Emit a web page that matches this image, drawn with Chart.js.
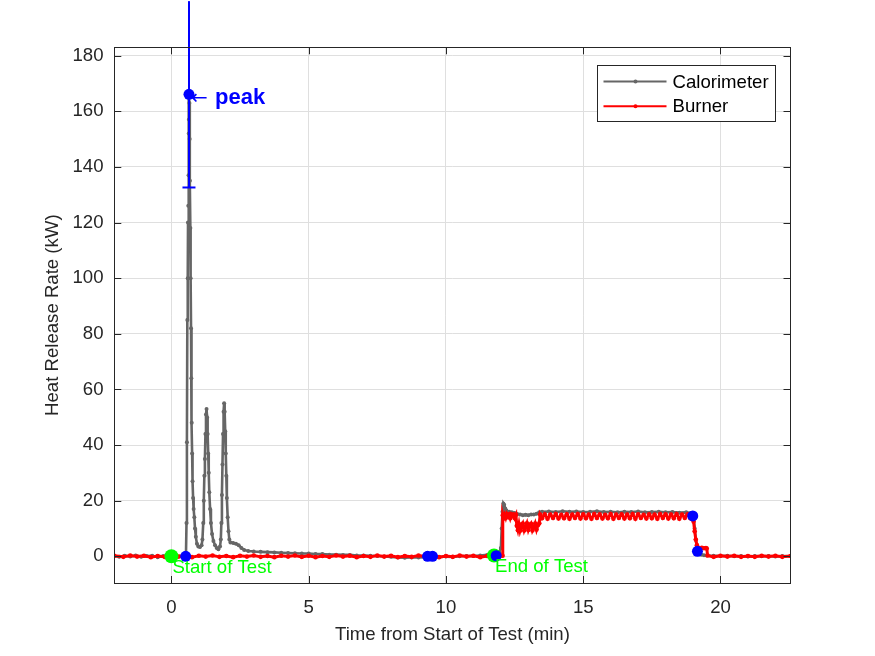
<!DOCTYPE html>
<html>
<head>
<meta charset="utf-8">
<script src="https://cdn.jsdelivr.net/npm/chart.js@4"></script>
<style>
  html, body { margin: 0; padding: 0; background: #fff; }
  canvas { display: block; }
</style>
</head>
<body>
<canvas id="hrrChart" width="875" height="656"></canvas>
<script>
// --- Data ---

// Calorimeter heat release rate (kW) vs time from start of test (min)
const calTime = [
  -2.08, -1.9, -1.7, -1.5, -1.3, -1.1, -0.9, -0.7, -0.5, -0.3, -0.1, 0.1, 0.3, 0.45, 0.53,
  0.55, 0.565, 0.58, 0.595, 0.605, 0.615, 0.625, 0.632, 0.638, 0.64, 0.655, 0.665, 0.675, 0.69, 0.70,
  0.715, 0.725, 0.74, 0.755, 0.77, 0.79, 0.81, 0.835, 0.86, 0.89, 0.93, 0.98, 1.04, 1.10,
  1.13, 1.16, 1.18, 1.20, 1.22, 1.24, 1.26, 1.28, 1.30, 1.32, 1.34, 1.36, 1.38, 1.41, 1.44,
  1.48, 1.53, 1.59, 1.65, 1.71, 1.77,
  1.80, 1.82, 1.84, 1.86, 1.88, 1.90, 1.92, 1.94, 1.96, 1.98, 2.00, 2.02, 2.05, 2.08, 2.11,
  2.15, 2.25, 2.35, 2.45, 2.55, 2.65, 2.8, 3.0, 3.25, 3.5, 3.75, 4.0, 4.25, 4.5, 4.75,
  5.0, 5.25, 5.5, 5.75, 6.0, 6.25, 6.5, 6.75, 7.0, 7.25, 7.5, 7.75, 8.0, 8.25, 8.5,
  8.75, 9.0, 9.25, 9.5, 9.75, 10.0, 10.25, 10.5, 10.75, 11.0, 11.25, 11.5, 11.7, 11.85, 11.95, 12.0,
  12.03, 12.06, 12.09, 12.12, 12.16, 12.2, 12.3, 12.4, 12.5, 12.6, 12.7, 12.8, 12.9, 13.0, 13.1,
  13.2, 13.3, 13.4, 13.5, 13.75, 14.0, 14.25, 14.5, 14.75, 15.0, 15.25, 15.5, 15.75, 16.0, 16.25,
  16.5, 16.75, 17.0, 17.25, 17.5, 17.75, 18.0, 18.25, 18.5, 18.75, 18.95,
  19.02, 19.06, 19.1, 19.14, 19.18, 19.22, 19.3, 19.4, 19.5, 19.75, 20.0, 20.25, 20.5, 20.75,
  21.0, 21.25, 21.5, 21.75, 22.0, 22.25, 22.55
];
const calHRR = [
  0.1, -0.2, 0.2, -0.1, 0.3, -0.2, 0.1, 0.2, -0.3, 0.1, -0.1, 0.2, -0.1, 0.1, 0.3,
  12, 41, 85, 100, 120, 126, 137, 152, 157, 166, 163, 150, 135, 118, 100,
  82, 64, 48, 37, 27, 21, 17, 14, 10, 7, 4.5, 3.5, 3.3, 4,
  6, 12, 20, 29, 35, 44, 51, 53, 50, 44, 37, 30, 23, 17, 12,
  8, 5.5, 4, 3, 2.5, 3.5,
  6, 12, 22, 33, 44, 52, 55, 52, 45, 37, 29, 21, 14, 9, 6,
  5, 4.8, 4.5, 4, 3, 2.3, 1.9, 1.7, 1.6, 1.5, 1.4, 1.3, 1.2, 1.1, 1.0,
  1.0, 0.8, 0.8, 0.6, 0.6, 0.5, 0.5, 0.3, 0.3, 0.2, 0.1, -0.1, -0.2, -0.4, -0.5,
  -0.4, -0.4, -0.3, -0.2, -0.3, -0.1, -0.2, 0.0, 0.1, 0.1, 0.3, 0.5, 0.8, 1.0, 1.5, 3,
  10, 16, 19, 18.5, 17.2, 16.5, 16, 15.8, 15.6, 15.2, 15.0, 14.8, 14.9, 14.8, 15.0,
  15.0, 15.3, 15.8, 16.0, 16.1, 15.9, 16.2, 16.0, 16.1, 15.9, 16.0, 16.2, 15.9, 16.0, 15.8,
  16.0, 15.9, 16.1, 15.8, 15.9, 16.0, 15.8, 15.9, 15.7, 15.8, 15.6,
  14, 10, 6, 3, 1.6, 1.0, 0.6, 0.4, 0.3, 0.2, 0.1, 0.2, 0.0, 0.1,
  -0.1, 0.1, 0.0, 0.1, -0.1, 0.1, 0.0
];

// Burner heat release rate (kW)
const burnerTime = [
  -2.08, -1.75, -1.5, -1.25, -1.0, -0.75, -0.5, -0.25, 0.0, 0.25, 0.5, 0.75, 1.0, 1.25, 1.5,
  1.75, 2.0, 2.25, 2.5, 2.75, 3.0, 3.25, 3.5, 3.75, 4.0, 4.25, 4.5, 4.75, 5.0, 5.25,
  5.5, 5.75, 6.0, 6.25, 6.5, 6.75, 7.0, 7.25, 7.5, 7.75, 8.0, 8.25, 8.5, 8.75, 9.0,
  9.25, 9.5, 9.75, 10.0, 10.25, 10.5, 10.75, 11.0, 11.25, 11.5, 11.75, 12.0, 12.06,
  12.07, 12.1, 12.14, 12.18, 12.22, 12.26, 12.3, 12.34, 12.38, 12.42, 12.46, 12.5, 12.55,
  12.58, 12.62, 12.66, 12.7, 12.75, 12.8, 12.85, 12.9, 12.95, 13.0, 13.05, 13.1, 13.15, 13.2,
  13.25, 13.3, 13.35, 13.4, 13.43,
  13.5, 13.6, 13.7, 13.8, 13.9, 14.0, 14.1, 14.2, 14.3, 14.4, 14.5, 14.6, 14.7, 14.8, 14.9,
  15.0, 15.1, 15.2, 15.3, 15.4, 15.5, 15.6, 15.7, 15.8, 15.9, 16.0, 16.1, 16.2, 16.3, 16.4,
  16.5, 16.6, 16.7, 16.8, 16.9, 17.0, 17.1, 17.2, 17.3, 17.4, 17.5, 17.6, 17.7, 17.8, 17.9,
  18.0, 18.1, 18.2, 18.3, 18.4, 18.5, 18.6, 18.7, 18.8, 18.9, 18.97,
  19.02, 19.06, 19.1, 19.14, 19.18, 19.25, 19.32, 19.4, 19.47, 19.5, 19.53,
  19.75, 20.0, 20.25, 20.5, 20.75, 21.0, 21.25, 21.5, 21.75, 22.0, 22.25, 22.55
];
const burnerHRR = [
  0.2, -0.2, 0.3, -0.1, 0.2, -0.3, 0.1, -0.2, 0.3, -0.1, 0.2, -0.3, 0.2, -0.1, 0.3,
  -0.2, 0.1, -0.3, 0.2, -0.1, 0.3, -0.2, 0.1, -0.3, 0.2, -0.1, 0.3, -0.2, 0.2, -0.3,
  0.1, -0.2, 0.3, -0.1, 0.2, -0.3, 0.1, -0.2, 0.3, -0.1, 0.2, -0.3, 0.1, -0.2, 0.3,
  -0.1, 0.2, -0.3, 0.1, -0.2, 0.3, -0.1, 0.2, -0.3, 0.1, -0.2, 0.3, 0.2,
  14.8, 13.6, 15.0, 13.8, 15.2, 14.4, 15.0, 13.7, 15.1, 14.6, 15.0, 13.8, 14.9,
  11.0, 9.4, 11.6, 9.2, 10.8, 11.8, 9.3, 10.6, 11.9, 9.5, 10.9, 11.7, 9.3, 10.4,
  11.8, 9.6, 11.2, 11.9, 15.0,
  13.7, 15.1, 13.5, 15.0, 13.8, 15.2, 13.6, 14.9, 13.7, 15.1, 13.5, 15.0, 13.8, 15.2, 13.6,
  15.1, 13.7, 15.0, 13.5, 15.2, 13.8, 15.1, 13.6, 14.9, 13.7, 15.2, 13.5, 15.0, 13.8, 15.1,
  13.6, 15.0, 13.7, 15.2, 13.5, 15.1, 13.8, 14.9, 13.6, 15.1, 13.7, 15.0, 13.5, 15.2, 13.8,
  15.1, 13.6, 15.0, 13.7, 15.2, 13.5, 15.0, 13.8, 15.1, 13.7, 14.6,
  12.5, 9, 6, 4, 3.1, 2.8, 3.1, 2.9, 3.0, 2.8, 0.3,
  -0.2, 0.2, -0.1, 0.2, -0.2, 0.1, -0.2, 0.2, -0.1, 0.2, -0.2, 0.1
];

// Event markers
const blueTime = [0.52, 9.33, 9.51, 11.83, 18.99, 19.16];
const blueHRR = [0, 0, 0, 0.2, 14.5, 1.8];
const greenTime = [0, 11.75];
const greenHRR = [0, 0.3];
const greenLabels = ['Start of Test', 'End of Test'];

// Peak with error bar
const peakTime = 0.64;
const peakHRR = 166.1;
const peakErr = 33.5;

// Axes
const xTicks = [0, 5, 10, 15, 20];
const yTicks = [0, 20, 40, 60, 80, 100, 120, 140, 160, 180];
const xRange = [-2.08, 22.55];
const yRange = [-9.6, 183];

// --- Helpers ---

const FONT = '"Liberation Sans", Arial, Helvetica, sans-serif';
const AXIS_COLOR = '#262626';
const GRAY = '#666666';

function toPoints(xs, ys) {
  return xs.map((x, i) => ({ x: x, y: ys[i] }));
}

// Box, inward ticks, legend and text annotations (MATLAB look)
const matlabFrame = {
  id: 'matlabFrame',
  afterDatasetsDraw(chart) {
    const { ctx, chartArea: a } = chart;
    const xs = chart.scales.x;
    const ys = chart.scales.y;
    const tick = 7;
    ctx.save();

    // event labels
    ctx.fillStyle = '#00ff00';
    ctx.font = '18.6px ' + FONT;
    ctx.textAlign = 'left';
    ctx.textBaseline = 'alphabetic';
    greenTime.forEach((t, i) => {
      ctx.fillText(greenLabels[i], xs.getPixelForValue(t) + 1, ys.getPixelForValue(greenHRR[i]) + 16.5);
    });

    // peak annotation
    const px = xs.getPixelForValue(peakTime);
    const py = ys.getPixelForValue(peakHRR);
    ctx.fillStyle = '#0000ff';
    ctx.font = '20px "DejaVu Sans", sans-serif';
    ctx.fillText('\u2190', px + 2, py + 10);
    ctx.font = 'bold 22px ' + FONT;
    ctx.fillText('peak', px + 26, py + 9.7);

    // box
    ctx.strokeStyle = AXIS_COLOR;
    ctx.lineWidth = 1;
    ctx.beginPath();
    xTicks.forEach(v => {
      const p = Math.round(xs.getPixelForValue(v)) + 0.5;
      ctx.moveTo(p, a.bottom); ctx.lineTo(p, a.bottom - tick);
      ctx.moveTo(p, a.top); ctx.lineTo(p, a.top + tick);
    });
    yTicks.forEach(v => {
      const p = Math.round(ys.getPixelForValue(v)) + 0.5;
      ctx.moveTo(a.left, p); ctx.lineTo(a.left + tick, p);
      ctx.moveTo(a.right, p); ctx.lineTo(a.right - tick, p);
    });
    ctx.stroke();
    ctx.strokeRect(Math.round(a.left) + 0.5, Math.round(a.top) + 0.5,
      Math.round(a.right - a.left), Math.round(a.bottom - a.top));

    // legend
    const lw = 178, lh = 56;
    const lx = Math.round(a.right - 15.5 - lw) + 0.5;
    const ly = Math.round(a.top + 17.7) + 0.5;
    ctx.fillStyle = '#ffffff';
    ctx.fillRect(lx, ly, lw, lh);
    ctx.strokeStyle = AXIS_COLOR;
    ctx.strokeRect(lx, ly, lw, lh);
    const items = [
      { label: 'Calorimeter', color: GRAY },
      { label: 'Burner', color: '#ff0000' }
    ];
    items.forEach((it, i) => {
      const yy = ly + 16 + i * 24.7;
      ctx.strokeStyle = it.color;
      ctx.lineWidth = 2;
      ctx.beginPath();
      ctx.moveTo(lx + 6, yy); ctx.lineTo(lx + 69, yy);
      ctx.stroke();
      ctx.fillStyle = it.color;
      ctx.beginPath();
      ctx.arc(lx + 38, yy, 2, 0, Math.PI * 2);
      ctx.fill();
      ctx.fillStyle = '#000000';
      ctx.font = '18.6px ' + FONT;
      ctx.textBaseline = 'middle';
      ctx.fillText(it.label, lx + 75, yy + 1);
    });
    ctx.restore();
  }
};

// --- Chart ---

const ctx = document.getElementById('hrrChart').getContext('2d');
Chart.defaults.font.family = FONT;

const hrrChart = new Chart(ctx, {
  type: 'line',
  data: {
    datasets: [
      {
        label: 'Calorimeter',
        data: toPoints(calTime, calHRR),
        borderColor: GRAY,
        backgroundColor: GRAY,
        borderWidth: 2.6,
        pointRadius: 2,
        pointBorderWidth: 0,
        tension: 0,
        order: 5
      },
      {
        label: 'Burner',
        data: toPoints(burnerTime, burnerHRR),
        borderColor: '#ff0000',
        backgroundColor: '#ff0000',
        borderWidth: 3,
        pointRadius: 2.3,
        pointBorderWidth: 0,
        tension: 0,
        order: 4
      },
      {
        label: 'start/end',
        data: toPoints(greenTime, greenHRR),
        showLine: false,
        backgroundColor: '#00ff00',
        borderColor: '#00ff00',
        pointRadius: 7,
        pointBorderWidth: 0,
        order: 3
      },
      {
        label: 'error',
        data: [{ x: peakTime, y: peakHRR - peakErr }, { x: peakTime, y: peakHRR + peakErr }],
        borderColor: '#0000ff',
        borderWidth: 2,
        pointStyle: 'line',
        pointRadius: 6.5,
        pointBorderWidth: 2,
        pointBorderColor: '#0000ff',
        clip: false,
        order: 2
      },
      {
        label: 'events',
        data: toPoints(blueTime, blueHRR).concat([{ x: peakTime, y: peakHRR }]),
        showLine: false,
        backgroundColor: '#0000ff',
        borderColor: '#0000ff',
        pointRadius: 5.5,
        pointBorderWidth: 0,
        order: 1
      }
    ]
  },
  options: {
    responsive: false,
    animation: false,
    events: [],
    layout: { padding: { top: 47.3, right: 84.5, left: 0, bottom: 0 } },
    scales: {
      x: {
        type: 'linear',
        min: xRange[0],
        max: xRange[1],
        afterBuildTicks: s => { s.ticks = xTicks.map(v => ({ value: v })); },
        afterFit: s => { s.height = 73; },
        grid: { color: '#dfdfdf', drawTicks: false },
        border: { display: false },
        ticks: { color: AXIS_COLOR, font: { size: 18.6 }, padding: 14, maxRotation: 0 },
        title: {
          display: true,
          text: 'Time from Start of Test (min)',
          color: AXIS_COLOR,
          font: { size: 18.6 },
          padding: { top: 0, bottom: 10 }
        }
      },
      y: {
        type: 'linear',
        min: yRange[0],
        max: yRange[1],
        afterBuildTicks: s => { s.ticks = yTicks.map(v => ({ value: v })); },
        afterFit: s => { s.width = 114.3; },
        grid: { color: '#dfdfdf', drawTicks: false },
        border: { display: false },
        ticks: { color: AXIS_COLOR, font: { size: 18.6 }, padding: 10.8 },
        title: {
          display: true,
          text: 'Heat Release Rate (kW)',
          color: AXIS_COLOR,
          font: { size: 18.6 },
          padding: { top: 41.5, bottom: 0 }
        }
      }
    },
    plugins: {
      legend: { display: false },
      tooltip: { enabled: false }
    }
  },
  plugins: [matlabFrame]
});
</script>
</body>
</html>
